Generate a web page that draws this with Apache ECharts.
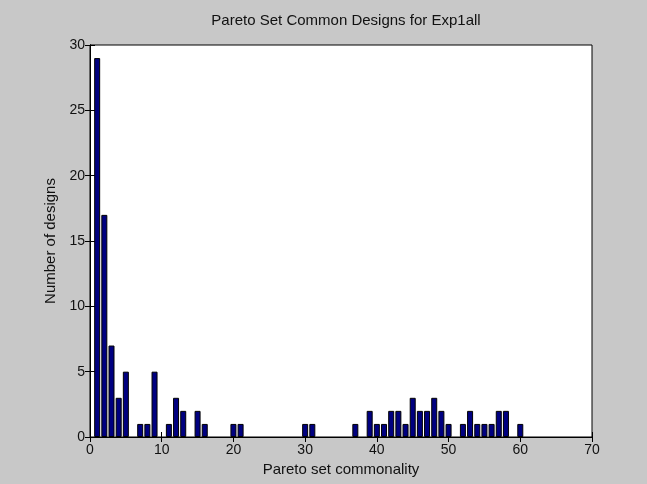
<!DOCTYPE html>
<html>
<head>
<meta charset="utf-8">
<script src="https://cdn.jsdelivr.net/npm/echarts@6/dist/echarts.min.js"></script>
<style>
html,body{margin:0;padding:0;background:#c8c8c8;}
#c{width:647px;height:484px;}
</style>
</head>
<body>
<div id="c"></div>
<script>
var titleText = 'Pareto Set Common Designs for Exp1all';
var xName = 'Pareto set commonality';
var yName = 'Number of designs';
var binCenters = [1,2,3,4,5,6,7,8,9,10,11,12,13,14,15,16,17,18,19,20,
  21,22,23,24,25,26,27,28,29,30,31,32,33,34,35,36,37,38,39,40,
  41,42,43,44,45,46,47,48,49,50,51,52,53,54,55,56,57,58,59,60];
var counts = [29,17,7,3,5,0,1,1,5,0,1,3,2,0,2,1,0,0,0,1,
  1,0,0,0,0,0,0,0,0,1,1,0,0,0,0,0,1,0,2,1,
  1,2,2,1,3,2,2,3,2,1,0,1,2,1,1,1,2,2,0,1];
var xTicks = [0,10,20,30,40,50,60,70];
var yTicks = [0,5,10,15,20,25,30];

var data = [];
binCenters.forEach(function(x,i){ if (counts[i] > 0) data.push([x, counts[i]]); });
var font = 'Liberation Sans, Arial, sans-serif';
var chart = echarts.init(document.getElementById('c'), null, {renderer:'canvas'});
var axisCommon = {
  axisLine:{show:true,lineStyle:{color:'#000',width:1}},
  axisTick:{show:true,inside:true,length:5,lineStyle:{color:'#000'}},
  splitLine:{show:false}
};
chart.setOption({
  backgroundColor:'#c8c8c8',
  animation:false,
  title:{text:titleText,left:341,top:8,textAlign:'center',
    textStyle:{fontFamily:font,fontSize:15,fontWeight:'normal',color:'#111'}},
  grid:{left:90,right:55,top:45,bottom:47,show:true,backgroundColor:'#fff',borderColor:'#000',borderWidth:1},
  xAxis:[
    Object.assign({type:'value',min:xTicks[0],max:xTicks[xTicks.length-1],interval:10,position:'bottom',
      name:xName,nameLocation:'middle',nameGap:25,
      nameTextStyle:{fontFamily:font,fontSize:15,color:'#111'},
      axisLabel:{fontFamily:font,fontSize:14,color:'#111',margin:6}},axisCommon),
    Object.assign({type:'value',min:xTicks[0],max:xTicks[xTicks.length-1],interval:10,position:'top',
      axisLabel:{show:false}},axisCommon)
  ],
  yAxis:[
    Object.assign({type:'value',min:yTicks[0],max:yTicks[yTicks.length-1],interval:5,position:'left',
      name:yName,nameLocation:'middle',nameGap:32,
      nameTextStyle:{fontFamily:font,fontSize:15,color:'#111'},
      axisLabel:{fontFamily:font,fontSize:14,color:'#111',margin:5}},axisCommon),
    Object.assign({type:'value',min:yTicks[0],max:yTicks[yTicks.length-1],interval:5,position:'right',
      axisLabel:{show:false}},axisCommon)
  ],
  series:[{
    type:'bar',
    xAxisIndex:0,yAxisIndex:0,
    data:data,
    barWidth:6,
    itemStyle:{color:'#000080',borderColor:'#000',borderWidth:1}
  }]
});
</script>
</body>
</html>
